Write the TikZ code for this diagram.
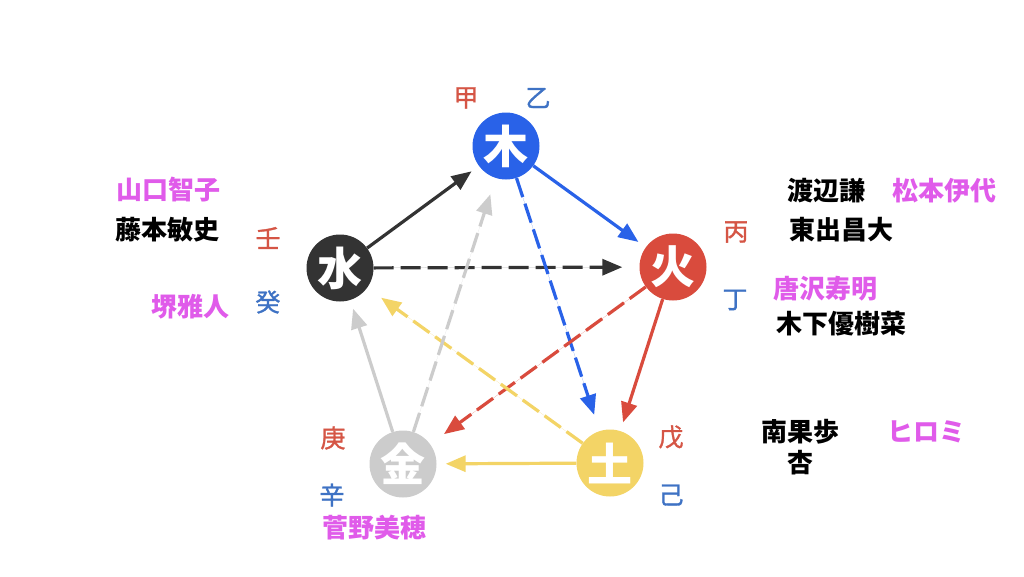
\documentclass[tikz,border=0pt]{standalone}
\usepackage{fontspec}
\newfontfamily\cjk{Noto Sans CJK JP}
\newfontfamily\cjkstem[FakeBold=1.2]{Noto Sans CJK JP}
\usetikzlibrary{arrows.meta}
\definecolor{mokublue}{HTML}{2962E8}
\definecolor{suiblack}{HTML}{333333}
\definecolor{kared}{HTML}{D94B3D}
\definecolor{kingray}{HTML}{CCCCCC}
\definecolor{doyellow}{HTML}{F3D466}
\definecolor{stemred}{HTML}{D55545}
\definecolor{stemblue}{HTML}{3E72C4}
\definecolor{namemag}{HTML}{E05BEA}
\begin{document}
\begin{tikzpicture}[x=1pt,y=-1pt]
\tikzset{
 elem/.style={circle, minimum size=67pt, inner sep=0pt, text=white, font=\cjk\bfseries\fontsize{45}{45}\selectfont},
 stem/.style={font=\cjkstem\fontsize{25}{25}\selectfont, inner sep=0pt},
 pname/.style={font=\cjk\bfseries\fontsize{26}{26}\selectfont, inner sep=0pt},
 solidarrow/.style={line width=3.2pt, -{Triangle[length=20pt,width=16pt]}, shorten >=9pt},
 dasharrow/.style={solidarrow, dash pattern=on 20pt off 7pt, shorten >=17pt},
}
\useasboundingbox (0,0) rectangle (1024,576);
\fill[white] (0,0) rectangle (1024,576);
% element nodes
\node[elem, fill=mokublue] (moku) at (506,146) {木};
\node[elem, fill=suiblack] (sui) at (340,268) {水};
\node[elem, fill=kared] (ka) at (673,267) {火};
\node[elem, fill=kingray] (kin) at (403,464) {金};
\node[elem, fill=doyellow] (do) at (610,463) {土};
% arrows
\draw[solidarrow, draw=suiblack, fill=suiblack] (sui) -- (moku);
\draw[dasharrow, draw=suiblack, fill=suiblack] (sui) -- (ka);
\draw[solidarrow, draw=mokublue, fill=mokublue] (moku) -- (ka);
\draw[dasharrow, draw=mokublue, fill=mokublue] (moku) -- (do);
\draw[solidarrow, draw=kared, fill=kared] (ka) -- (do);
\draw[dasharrow, draw=kared, fill=kared] (ka) -- (kin);
\draw[solidarrow, draw=doyellow, fill=doyellow] (do) -- (kin);
\draw[dasharrow, draw=doyellow, fill=doyellow] (do) -- (sui);
\draw[solidarrow, draw=kingray, fill=kingray] (kin) -- (sui);
\draw[dasharrow, draw=kingray, fill=kingray] (kin) -- (moku);
% stems
\node[stem, text=stemred] (kou) at (466,98) {甲};
\node[stem, text=stemblue] (otsu) at (538,98) {乙};
\node[stem, text=stemred] (jin) at (268,238) {壬};
\node[stem, text=stemblue] (ki) at (268,302) {癸};
\node[stem, text=stemred] (hei) at (736,232) {丙};
\node[stem, text=stemblue] (tei) at (735,300) {丁};
\node[stem, text=stemred] (kou2) at (333,438) {庚};
\node[stem, text=stemblue] (shin) at (332,495) {辛};
\node[stem, text=stemred] (bo) at (671,437) {戊};
\node[stem, text=stemblue] (tsuchi) at (671,495) {己};
% names
\node[pname, text=namemag] (n1) at (168,190) {山口智子};
\node[pname, text=black] (n2) at (167,230) {藤本敏史};
\node[pname, text=namemag] (n3) at (190,307) {堺雅人};
\node[pname, text=black] (n4) at (826,191) {渡辺謙};
\node[pname, text=namemag] (n5) at (944,191) {松本伊代};
\node[pname, text=black] (n6) at (841,230) {東出昌大};
\node[pname, text=namemag] (n7) at (825,289) {唐沢寿明};
\node[pname, text=black] (n8) at (841,324) {木下優樹菜};
\node[pname, text=black] (n9) at (800,432) {南果歩};
\node[pname, text=black] (n10) at (800,463) {杏};
\node[pname, text=namemag] (n11) at (926,432) {ヒロミ};
\node[pname, text=namemag] (n12) at (374,528) {菅野美穂};
\end{tikzpicture}
\end{document}
